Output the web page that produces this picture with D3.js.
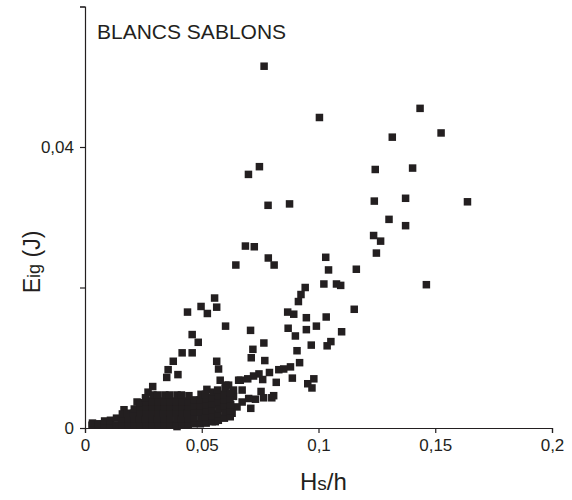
<!DOCTYPE html>
<html>
<head>
<meta charset="utf-8">
<script src="https://cdn.jsdelivr.net/npm/d3@7"></script>
<style>
  body { margin: 0; background: #fff; }
  text { font-family: "Liberation Sans", Arial, sans-serif; fill: #231f20; }
</style>
</head>
<body>
<div id="chart"></div>
<script>
// axis ticks
var xTicks = [0, 0.05, 0.1, 0.15, 0.2];
var yTicks = [0, 0.02, 0.04, 0.06];
var yLabelled = [0, 0.04];

// scattered points [Hs/h, Eig]
var upperPts = [
  [0.0767, 0.0515], [0.1004, 0.0442], [0.1435, 0.0455], [0.1316, 0.0414], [0.1525, 0.0420],
  [0.0747, 0.0372], [0.0700, 0.0361], [0.1243, 0.0368], [0.1403, 0.0370], [0.0784, 0.0317],
  [0.0876, 0.0319], [0.1239, 0.0323], [0.1373, 0.0327], [0.1638, 0.0322], [0.1302, 0.0297],
  [0.1373, 0.0288], [0.0687, 0.0259], [0.0725, 0.0258], [0.1236, 0.0274], [0.1266, 0.0266],
  [0.1248, 0.0249], [0.0785, 0.0242], [0.0810, 0.0232], [0.0646, 0.0232], [0.1031, 0.0243],
  [0.1043, 0.0225], [0.1162, 0.0226], [0.1462, 0.0204], [0.1023, 0.0205], [0.1077, 0.0205],
  [0.1095, 0.0203], [0.0943, 0.0200], [0.0925, 0.0190], [0.0914, 0.0180], [0.0868, 0.0165],
  [0.0894, 0.0162], [0.0948, 0.0157], [0.1033, 0.0158], [0.1153, 0.0169], [0.0709, 0.0139],
  [0.0870, 0.0142], [0.0948, 0.0140], [0.0991, 0.0145], [0.0901, 0.0131], [0.1099, 0.0137],
  [0.0766, 0.0121], [0.0719, 0.0112], [0.0712, 0.0100], [0.0770, 0.0096], [0.0908, 0.0110],
  [0.0969, 0.0118], [0.1037, 0.0117], [0.1053, 0.0123], [0.0919, 0.0093], [0.0880, 0.0087],
  [0.0851, 0.0084], [0.0830, 0.0083], [0.0790, 0.0079], [0.0745, 0.0077], [0.0722, 0.0074],
  [0.0697, 0.0070], [0.0665, 0.0068], [0.0888, 0.0071], [0.0819, 0.0065], [0.0761, 0.0069],
  [0.0980, 0.0070], [0.0954, 0.0063], [0.0972, 0.0057], [0.0673, 0.0054], [0.0636, 0.0045],
  [0.0754, 0.0052], [0.0808, 0.0046], [0.0800, 0.0043], [0.0765, 0.0043], [0.0730, 0.0041],
  [0.0701, 0.0042], [0.0673, 0.0037], [0.0710, 0.0028], [0.0651, 0.0030], [0.0630, 0.0021],
  [0.0615, 0.0061], [0.0636, 0.0054], [0.0601, 0.0042], [0.0622, 0.0030], [0.0615, 0.0021]
];

var wingPts = [
  [0.0555, 0.0185], [0.0497, 0.0173], [0.0564, 0.0172], [0.0439, 0.0165], [0.0524, 0.0163],
  [0.0602, 0.0145], [0.0459, 0.0133], [0.0485, 0.0122], [0.0416, 0.0107], [0.0459, 0.0107],
  [0.0378, 0.0095], [0.0356, 0.0083], [0.0398, 0.0076], [0.0350, 0.0072], [0.0564, 0.0095],
  [0.0572, 0.0084], [0.0579, 0.0068], [0.0290, 0.0059], [0.0522, 0.0055], [0.0603, 0.0061],
  [0.0658, 0.0068], [0.0558, 0.0009], [0.0394, 0.0002], [0.0270, 0.0051], [0.0223, 0.0037],
  [0.0167, 0.0026]
];

// dense cloud near the origin
var densePts = [
  [0.0030, 0.0004], [0.0032, 0.0007], [0.0056, 0.0004], [0.0058, 0.0006],
  [0.0082, 0.0004], [0.0084, 0.0010], [0.0107, 0.0004], [0.0109, 0.0011],
  [0.0133, 0.0004], [0.0135, 0.0014], [0.0159, 0.0004], [0.0157, 0.0013], [0.0160, 0.0020],
  [0.0185, 0.0004], [0.0187, 0.0013], [0.0183, 0.0021],
  [0.0210, 0.0004], [0.0212, 0.0013], [0.0208, 0.0021], [0.0211, 0.0027],
  [0.0236, 0.0004], [0.0234, 0.0013], [0.0238, 0.0021], [0.0235, 0.0030], [0.0237, 0.0036],
  [0.0262, 0.0004], [0.0260, 0.0013], [0.0264, 0.0021], [0.0261, 0.0030], [0.0263, 0.0038], [0.0259, 0.0043],
  [0.0288, 0.0004], [0.0290, 0.0013], [0.0286, 0.0021], [0.0289, 0.0030], [0.0287, 0.0038], [0.0291, 0.0047],
  [0.0313, 0.0004], [0.0311, 0.0013], [0.0315, 0.0021], [0.0312, 0.0030], [0.0314, 0.0038], [0.0310, 0.0047],
  [0.0339, 0.0004], [0.0341, 0.0013], [0.0337, 0.0021], [0.0340, 0.0030], [0.0338, 0.0038], [0.0342, 0.0047],
  [0.0365, 0.0004], [0.0363, 0.0013], [0.0367, 0.0021], [0.0364, 0.0030], [0.0366, 0.0038], [0.0362, 0.0047],
  [0.0391, 0.0004], [0.0393, 0.0013], [0.0389, 0.0021], [0.0392, 0.0030], [0.0390, 0.0038], [0.0394, 0.0047],
  [0.0416, 0.0004], [0.0414, 0.0013], [0.0418, 0.0021], [0.0415, 0.0030], [0.0417, 0.0038], [0.0413, 0.0047],
  [0.0442, 0.0004], [0.0444, 0.0013], [0.0440, 0.0021], [0.0443, 0.0030], [0.0441, 0.0038], [0.0445, 0.0046],
  [0.0468, 0.0006], [0.0466, 0.0014], [0.0470, 0.0023], [0.0467, 0.0031], [0.0469, 0.0040],
  [0.0494, 0.0006], [0.0496, 0.0014], [0.0492, 0.0023], [0.0495, 0.0031], [0.0493, 0.0040], [0.0497, 0.0048],
  [0.0519, 0.0007], [0.0517, 0.0016], [0.0521, 0.0024], [0.0518, 0.0033], [0.0520, 0.0041], [0.0516, 0.0048],
  [0.0545, 0.0009], [0.0547, 0.0017], [0.0543, 0.0026], [0.0546, 0.0034], [0.0544, 0.0043], [0.0548, 0.0051],
  [0.0571, 0.0011], [0.0569, 0.0020], [0.0573, 0.0028], [0.0570, 0.0037], [0.0572, 0.0046], [0.0568, 0.0054],
  [0.0597, 0.0014], [0.0599, 0.0023], [0.0595, 0.0031], [0.0598, 0.0040], [0.0596, 0.0048], [0.0600, 0.0057],
  [0.0622, 0.0016], [0.0620, 0.0024], [0.0624, 0.0033], [0.0621, 0.0041], [0.0623, 0.0050]
];

var W = 572, H = 500;
var svg = d3.select("#chart").append("svg")
  .attr("width", W)
  .attr("height", H);

var x = d3.scaleLinear().domain([0, 0.2]).range([85, 552]);
var y = d3.scaleLinear().domain([0, 0.06]).range([428, 6.5]);

var fmt = function(d) { return String(d).replace(".", ","); };

// x axis
var gx = svg.append("g")
  .attr("transform", "translate(0," + y(0) + ")")
  .call(d3.axisBottom(x).tickValues(xTicks).tickSize(5).tickPadding(6).tickFormat(fmt));

// y axis
var gy = svg.append("g")
  .attr("transform", "translate(" + x(0) + ",0)")
  .call(d3.axisLeft(y).tickValues(yTicks).tickSize(5).tickPadding(6)
    .tickFormat(function(d) { return yLabelled.indexOf(d) >= 0 ? fmt(d) : ""; }));

[gx, gy].forEach(function(g) {
  g.select(".domain").attr("stroke", "#231f20").attr("stroke-width", 1.2);
  g.selectAll(".tick line").attr("stroke", "#231f20").attr("stroke-width", 1.2);
  g.selectAll(".tick text")
    .attr("font-size", 17)
    .attr("font-family", "Liberation Sans, Arial, sans-serif")
    .attr("fill", "#231f20");
});

// points
var all = upperPts.concat(wingPts, densePts);
var s = 7.5;
svg.append("g").selectAll("rect")
  .data(all)
  .enter().append("rect")
    .attr("x", function(d) { return x(d[0]) - s / 2; })
    .attr("y", function(d) { return y(d[1]) - s / 2; })
    .attr("width", s)
    .attr("height", s)
    .attr("fill", "#231f20");

// title
svg.append("text")
  .attr("x", 97)
  .attr("y", 39)
  .attr("font-size", 21)
  .text("BLANCS SABLONS");

// x label
var xl = svg.append("text")
  .attr("x", 300)
  .attr("y", 490)
  .attr("font-size", 24);
xl.append("tspan").text("H");
xl.append("tspan").attr("font-size", 19).text("s");
xl.append("tspan").text("/h");

// y label
var yl = svg.append("text")
  .attr("transform", "translate(40,262) rotate(-90)")
  .attr("text-anchor", "middle")
  .attr("font-size", 23);
yl.append("tspan").text("E");
yl.append("tspan").attr("font-size", 18).text("ig");
yl.append("tspan").text(" (J)");
</script>
</body>
</html>
